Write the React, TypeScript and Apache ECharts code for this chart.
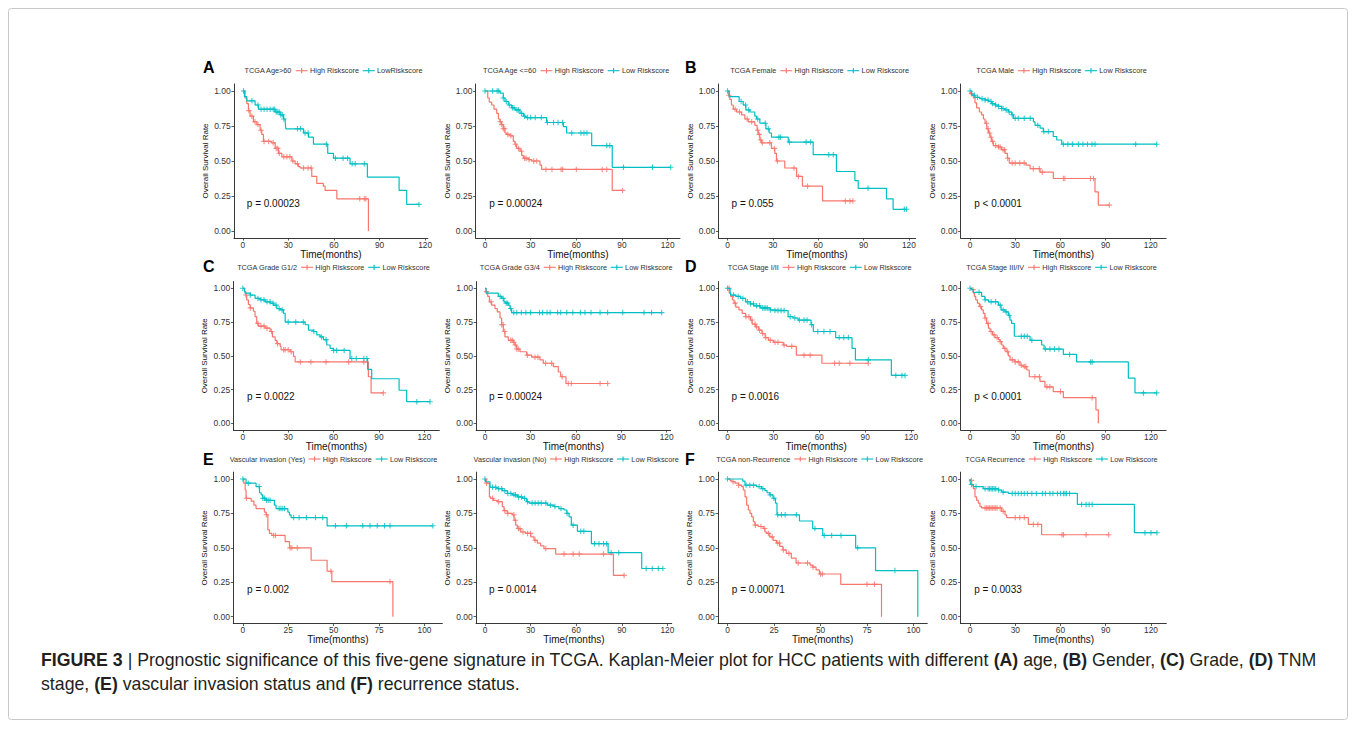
import React, { useEffect, useRef } from "react";
import * as echarts from "echarts";

// ---------------- data ----------------
// each curve: [time, survival after the event]; censor lists: times of "+" marks
const p1High = [[0,1],[1.5,0.95],[2.6,0.91],[3.7,0.86],[4.8,0.82],[7,0.78],[9.2,0.76],[11.4,0.72],[12.5,0.69],[13.6,0.64],[19,0.63],[21.3,0.59],[23.5,0.555],[25.7,0.53],[32.3,0.5],[34.4,0.48],[36.6,0.46],[37.7,0.45],[45.4,0.39],[48.7,0.34],[53,0.32],[54.2,0.29],[61.9,0.23],[82.7,0]];
const p1HighCens = [4,6,8,10,12,14,17,20,22,23,24,27,29,31,33,36,40,43,45,77,80,81];
const p1Low = [[0,1],[1.1,0.96],[2.6,0.93],[8.1,0.9],[10.3,0.87],[21.3,0.85],[24.6,0.83],[26.8,0.8],[27.9,0.78],[28.3,0.73],[40,0.7],[43.2,0.67],[46.5,0.62],[55.9,0.555],[59.7,0.52],[70.6,0.48],[82,0.385],[102.9,0.29],[107.9,0.19]];
const p1LowCens = [0.5,6,10,12,14,16,18,20,21,22,23,24,25,26,27,36,38,41,43,55,61,66,69,72,74,80,116];

const p2High = [[0,1],[1.8,0.95],[2.8,0.92],[4.4,0.9],[5.9,0.87],[7.7,0.84],[8.8,0.8],[9.9,0.78],[10.9,0.76],[12,0.73],[13.1,0.7],[14.2,0.69],[16.4,0.68],[18.6,0.64],[19.7,0.62],[20.8,0.59],[23,0.57],[24.1,0.54],[25.2,0.52],[28.5,0.51],[30.7,0.5],[36.1,0.47],[37.2,0.44],[83.6,0.29]];
const p2HighCens = [10,11,12,13,15,17,20,22,24,26,27,29,32,34,40,44,50,51,60,77,80,90.4];
const p2Low = [[0,1],[9.9,0.985],[12,0.95],[13.1,0.925],[15.3,0.9],[17.5,0.88],[19.7,0.865],[23,0.84],[25.2,0.82],[26.9,0.81],[40.5,0.775],[51.5,0.745],[53.6,0.7],[70.1,0.61],[83.6,0.455]];
const p2LowCens = [0,5,8,9,12,14,16,18,19,21,22,24,26,28,30,33,37,41,45,48,51,57,63,65,67,80,82,91,110,122];

const p3High = [[0,1],[0.9,0.97],[1.5,0.94],[2.6,0.9],[3.8,0.87],[6,0.85],[9.3,0.83],[11.5,0.8],[13.7,0.78],[18.1,0.755],[19.6,0.72],[20.3,0.69],[21.4,0.65],[22.5,0.63],[29.1,0.59],[31.3,0.555],[32.4,0.5],[37.9,0.45],[45.7,0.39],[49.6,0.32],[62.9,0.215]];
const p3HighCens = [1,5,8,13,16,20,21,22,23,28,31,33,44,47,53,78,81,83];
const p3Low = [[0,1],[1.1,0.96],[7.7,0.925],[10.4,0.9],[12.1,0.865],[14.8,0.85],[18.1,0.82],[19.2,0.8],[21.4,0.77],[25.4,0.73],[27.6,0.7],[29.1,0.67],[40.2,0.635],[56.7,0.545],[72.1,0.425],[84.3,0.36],[86.5,0.305],[105.2,0.23],[109.6,0.155]];
const p3LowCens = [0,9,12,14,20,25,27,34,35,41,52,55,67,70,93,117,118.5];

const p4High = [[0,1],[0.4,0.98],[2.2,0.95],[3.3,0.915],[4.4,0.88],[6.2,0.85],[7.7,0.83],[8.9,0.8],[10,0.77],[11.1,0.73],[12.2,0.7],[13.3,0.67],[14.4,0.64],[15.5,0.61],[18.8,0.6],[21,0.58],[23.2,0.555],[24.8,0.52],[26.1,0.485],[37.2,0.47],[39.9,0.445],[46.5,0.42],[55.3,0.375],[83,0.28],[85.2,0.185]];
const p4HighCens = [1,11,12,13,14,15,17,19,20,22,23,25,28,30,33,36,42,46,48,62,63,80,82,92.5];
const p4Low = [[0,1],[1.1,0.97],[3.3,0.955],[6.6,0.945],[10,0.935],[12.2,0.925],[14.4,0.91],[16.6,0.9],[18.8,0.89],[21,0.875],[23.2,0.865],[25.5,0.85],[27.7,0.83],[28.8,0.805],[42.1,0.78],[43.2,0.755],[46.5,0.735],[48.7,0.71],[55.3,0.675],[57.6,0.65],[60.9,0.62]];
const p4LowCens = [0,3,5,8,10,12,14,15,17,19,21,22,24,26,28,30,32,36,40,45,49,52,62,65,68,72,75,78,81,83,110,124];

const p5High = [[0,1],[1.1,0.975],[2,0.95],[2.6,0.915],[3.7,0.88],[4.8,0.855],[7,0.83],[8.1,0.79],[9.2,0.74],[10.3,0.72],[14.8,0.705],[18.1,0.68],[19.6,0.64],[21.4,0.615],[22.5,0.59],[24.7,0.57],[25.3,0.545],[31.3,0.53],[33.5,0.495],[34.6,0.455],[83,0.345],[84.8,0.225]];
const p5HighCens = [2,5,10,12,14,16,19,23,27,28,30,32,38,45,55,70,80,92.9];
const p5Low = [[0,1],[1.1,0.99],[1.5,0.965],[4.8,0.95],[8.1,0.925],[11.4,0.915],[14.8,0.9],[18.1,0.89],[20.3,0.875],[22.5,0.85],[24.7,0.84],[26.9,0.815],[28,0.75],[41.2,0.73],[43.4,0.69],[46.7,0.68],[48.9,0.655],[51.1,0.64],[53.3,0.62],[55.5,0.58],[57.7,0.555],[59.9,0.54],[70.9,0.48],[82.5,0.4],[85.2,0.33],[103.3,0.245],[108.3,0.16]];
const p5LowCens = [0,5,10,12,14,16,18,20,22,24,26,30,35,40,47,52,55,60,62,67,72,75,80,82,115,123.7];

const p6High = [[0,1],[0.7,0.975],[1.8,0.94],[2.9,0.9],[4.4,0.875],[6.6,0.85],[8.1,0.825],[9.9,0.78],[11,0.73],[12.1,0.68],[13.2,0.64],[15.4,0.615],[18.7,0.6],[19.8,0.58],[20.9,0.55],[23.1,0.53],[27.5,0.505],[30.8,0.49],[36.3,0.47],[38.5,0.445],[45.1,0.42],[48.4,0.38],[50,0.345],[53.5,0.295]];
const p6HighCens = [1,4,11,12,13,17,18,19,20,21,22,28,33,35,40,44,51,55,57,76,81];
const p6Low = [[0,1],[0.7,0.965],[8.8,0.94],[11,0.925],[12.5,0.9],[13.9,0.89],[15.4,0.875],[16.5,0.85],[17.6,0.82]];
const p6LowCens = [10,12,14,15,17,19,21,24,27,30,36,38,41,43,48,50,54,58,63,66,70,76,81,91,105,110,116.7];

const p7High = [[0,1],[1.1,0.965],[2.1,0.94],[3.2,0.915],[4.3,0.89],[5.4,0.86],[7.5,0.84],[9.6,0.815],[11.8,0.79],[15,0.765],[16.1,0.735],[18.2,0.715],[20.4,0.69],[22.5,0.665],[24.6,0.635],[26.8,0.615],[30,0.6],[36.4,0.58],[38.6,0.57],[45,0.505],[61.7,0.445]];
const p7HighCens = [1,5,12,14,16,18,19,21,23,25,28,31,33,37,42,50,54,70,73,80,92];
const p7Low = [[0,1],[1.7,0.975],[2.1,0.95],[5.4,0.94],[8.6,0.925],[11.8,0.9],[15,0.885],[17.1,0.87],[21.4,0.855],[27.9,0.84],[30,0.835],[39.6,0.79],[42.9,0.78],[46.1,0.765],[54.6,0.73],[56.1,0.68],[70.7,0.635],[81.4,0.555],[83.6,0.47],[107.1,0.355]];
const p7LowCens = [0,4,7,10,13,15,17,19,21,23,24,25,26,28,31,33,35,37,41,44,47,50,52,55,59,63,67,73,76,79,92,110,114,116];

const p8High = [[0,1],[1.1,0.99],[2.2,0.965],[2.9,0.94],[3.8,0.915],[4.9,0.89],[6.2,0.865],[7.7,0.84],[8.8,0.815],[9.9,0.78],[11,0.74],[12.2,0.705],[13.3,0.68],[15,0.655],[16.6,0.635],[18.8,0.62],[19.9,0.605],[21,0.58],[22.1,0.555],[23.9,0.53],[25.4,0.5],[26.5,0.47],[29.8,0.455],[33.1,0.43],[35.4,0.42],[37.6,0.395],[39.3,0.345],[46.4,0.31],[49.7,0.27],[55.2,0.235],[61.9,0.19],[83.5,0.1],[85.1,0]];
const p8HighCens = [2,7,10,12,14,16,18,20,23,25,28,30,32,34,36,37,43,46,51,53,60,81];
const p8Low = [[0,1],[1.1,0.99],[2.2,0.97],[7.7,0.94],[9.9,0.915],[12.2,0.9],[18.8,0.875],[20.6,0.84],[23.2,0.825],[25.4,0.8],[26.5,0.765],[27.6,0.74],[29.4,0.645],[39.8,0.615],[47.5,0.58],[49.1,0.55],[61.9,0.51],[70.7,0.455],[105,0.335],[109.4,0.225]];
const p8LowCens = [0,6,10,14,17,20,22,24,26,34,36,38,41,50,53,56,59,66,80,81,115,123.8];

const p9High = [[0,1],[0.5,0.97],[1.3,0.92],[1.8,0.86],[4.6,0.84],[6.1,0.81],[7.3,0.785],[11.9,0.76],[12.8,0.74],[13.8,0.63],[14.7,0.605],[16,0.59],[23.3,0.545],[25.7,0.5],[37.6,0.41],[46.4,0.33],[49,0.255],[82.6,0]];
const p9HighCens = [2,13,17,18,26,27,30,48.5,81];
const p9Low = [[0,1],[1.8,0.97],[7.3,0.945],[9.2,0.9],[10.1,0.885],[11,0.86],[12.8,0.845],[17.4,0.81],[18.3,0.785],[24.8,0.76],[25.7,0.74],[26.6,0.72],[46.4,0.66]];
const p9LowCens = [0,3,9,11,12,13,14,15,20,21,22,23,28,31,35,40,44,51,57,66,70,74,78,81,104.6];

const p10High = [[0,1],[0.9,0.97],[2.9,0.87],[3.7,0.86],[5.5,0.845],[8.1,0.835],[11.4,0.8],[12.5,0.77],[14.7,0.75],[18,0.74],[19.1,0.7],[20.2,0.665],[21.3,0.64],[23.5,0.615],[26.8,0.605],[30.1,0.58],[32.3,0.555],[34.4,0.535],[36.6,0.515],[38.8,0.495],[46.5,0.455],[84.5,0.3]];
const p10HighCens = [1,5,9,13,15,19,20,22,23,25,28,30,33,40,52,58,62,78,91.5];
const p10Low = [[0,1],[0.4,0.98],[3.3,0.94],[8.1,0.93],[11.4,0.915],[14.7,0.895],[18,0.885],[21.3,0.87],[24.6,0.86],[27.4,0.835],[29,0.825],[41,0.81],[45.4,0.8],[48.7,0.785],[52,0.775],[53.8,0.75],[55.3,0.725],[56.8,0.665],[60.8,0.62],[70,0.53],[81,0.465],[103.1,0.35]];
const p10LowCens = [0,5,7,9,11,13,15,17,19,20,22,24,26,28,31,33,35,37,40,43,46,50,54,58,63,65,72,75,78,80,83,88,106,110,114,117];

const p11High = [[0,1],[1.4,0.99],[2.3,0.98],[4.1,0.97],[5.9,0.955],[7.6,0.945],[8.5,0.92],[9.4,0.87],[10.3,0.81],[11.2,0.775],[12.1,0.75],[13,0.725],[13.9,0.69],[14.7,0.665],[16.5,0.655],[19.2,0.64],[20.1,0.615],[21,0.605],[22.7,0.58],[24.5,0.555],[26.3,0.535],[28.1,0.51],[29.8,0.485],[31.6,0.46],[34.3,0.425],[36.9,0.39],[44.4,0.375],[45.8,0.36],[47.6,0.34],[49.4,0.31],[60.9,0.235],[82.8,0]];
const p11HighCens = [3,6,15,18,20,22,24,27,28,30,33,38,43,46,50,51,75,79];
const p11Low = [[0,1],[8.2,0.985],[9.4,0.955],[15.6,0.945],[18.3,0.93],[20.1,0.915],[21.3,0.9],[22.7,0.885],[24.5,0.86],[25.8,0.825],[26.6,0.74],[38.7,0.695],[45.8,0.64],[51.2,0.59],[68.9,0.5],[79.6,0.335],[102.3,0]];
const p11LowCens = [0,10,12,14,17,19,23,25,27,29,31,37,47,52,56,61,70,90];

const p12High = [[0,1],[0.4,0.99],[1.1,0.955],[2.2,0.93],[3.3,0.87],[4.4,0.845],[5.5,0.825],[6.6,0.8],[7.7,0.79],[21,0.765],[23.2,0.74],[24.3,0.72],[38.7,0.67],[47.5,0.595]];
const p12HighCens = [1,10,11,12,13,14,15,16,17,18,20,22,30,33,36,42,45,61,62,77,92];
const p12Low = [[0,1],[0.3,0.96],[2.2,0.945],[8.8,0.93],[18.8,0.92],[21,0.905],[25.4,0.895],[71.2,0.815],[109,0.61]];
const p12LowCens = [1,4,10,12,13,14,15,16,17,19,22,28,30,32,34,36,38,41,44,48,50,53,55,58,60,62,63,64,66,74,77,79,81,116,120,124];

const PANEL_TITLES = ["TCGA Age>60","TCGA Age <=60","TCGA Female","TCGA Male","TCGA Grade G1/2","TCGA Grade G3/4","TCGA Stage I/II","TCGA Stage III/IV","Vascular invasion (Yes)","Vascular invasion (No)","TCGA non-Recurrence","TCGA Recurrence"];
const HIGH_LABELS = ["High Riskscore","High Riskscore","High Riskscore","High Riskscore","High Riskscore","High Riskscore","High Riskscore","High Riskscore","High Riskscore","High Riskscore","High Riskscore","High Riskscore"];
const LOW_LABELS = ["LowRiskscore","Low Riskscore","Low Riskscore","Low Riskscore","Low Riskscore","Low Riskscore","Low Riskscore","Low Riskscore","Low Riskscore","Low Riskscore","Low Riskscore","Low Riskscore"];
const P_VALUES = ["p = 0.00023","p = 0.00024","p = 0.055","p < 0.0001","p = 0.0022","p = 0.00024","p = 0.0016","p < 0.0001","p = 0.002","p = 0.0014","p = 0.00071","p = 0.0033"];
const PANEL_LETTERS = ["A","B","C","D","E","F"];
const X_TICKS_30 = [0,30,60,90,120];
const X_TICKS_25 = [0,25,50,75,100];
const Y_TICKS = [0,0.25,0.5,0.75,1];
const X_TITLE = "Time(months)";
const Y_TITLE = "Overall Survival Rate";
const CAPTION_1 = "{b|FIGURE 3} | Prognostic significance of this five-gene signature in TCGA. Kaplan-Meier plot for HCC patients with different {b|(A)} age, {b|(B)} Gender, {b|(C)} Grade, {b|(D)} TNM";
const CAPTION_2 = "stage, {b|(E)} vascular invasion status and {b|(F)} recurrence status.";

const CURVES = [
  [p1High,p1HighCens,p1Low,p1LowCens],[p2High,p2HighCens,p2Low,p2LowCens],[p3High,p3HighCens,p3Low,p3LowCens],[p4High,p4HighCens,p4Low,p4LowCens],
  [p5High,p5HighCens,p5Low,p5LowCens],[p6High,p6HighCens,p6Low,p6LowCens],[p7High,p7HighCens,p7Low,p7LowCens],[p8High,p8HighCens,p8Low,p8LowCens],
  [p9High,p9HighCens,p9Low,p9LowCens],[p10High,p10HighCens,p10Low,p10LowCens],[p11High,p11HighCens,p11Low,p11LowCens],[p12High,p12HighCens,p12Low,p12LowCens],
];
const X_TICK_SETS = [X_TICKS_30,X_TICKS_30,X_TICKS_30,X_TICKS_30,X_TICKS_30,X_TICKS_30,X_TICKS_30,X_TICKS_30,X_TICKS_25,X_TICKS_30,X_TICKS_25,X_TICKS_30];

// ---------------- layout ----------------
const RED = "#F8766D";
const CYAN = "#00BFC4";
const FONT = '"Liberation Sans", Arial, Helvetica, sans-serif';
const COL_X0 = [242.8, 485, 727.5, 970];
const PPM = [
  [1.519, 1.522, 1.511, 1.506],
  [1.513, 1.514, 1.53, 1.508],
  [1.817, 1.52, 1.86, 1.508],
];
const ROW_Y1 = [91, 288.3, 479];
const ROW_Y0 = [231, 423.3, 616.7];
const LEGEND_Y = [70.7, 267.3, 459];
const LEGEND_CX = [333.5, 576.2, 819.6, 1061.5];
const LETTER_X = [203, 685];
const LETTER_Y = [67.5, 266.7, 459];
const CAPTION_X = 41;
const CAPTION_W = 1277;
const PLUS = "path://M4,0H6V4H10V6H6V10H4V6H0V4H4Z";

let measureCtx: CanvasRenderingContext2D | null = null;
function textWidth(t: string, size: number, weight = "normal") {
  if (!measureCtx) measureCtx = document.createElement("canvas").getContext("2d");
  if (!measureCtx) return t.length * size * 0.5;
  measureCtx.font = `${weight} ${size}px ${FONT}`;
  return measureCtx.measureText(t).width;
}
function richWidth(t: string, size: number) {
  let w = 0;
  const re = /\{b\|([^}]*)\}/g;
  let last = 0;
  let m: RegExpExecArray | null;
  while ((m = re.exec(t))) {
    w += textWidth(t.slice(last, m.index), size);
    w += textWidth(m[1], size, "bold");
    last = m.index + m[0].length;
  }
  w += textWidth(t.slice(last), size);
  return w;
}

function survAt(events: number[][], t: number) {
  let s = 1;
  for (const [et, es] of events) {
    if (et <= t) s = es;
    else break;
  }
  return s;
}

function lineData(events: number[][], cens: number[]) {
  const out = events.map((p) => [p[0], p[1]]);
  const last = events[events.length - 1];
  const maxC = Math.max(...cens);
  if (maxC > last[0]) out.push([maxC, last[1]]);
  return out;
}

function buildOption() {
  const grid: any[] = [];
  const xAxis: any[] = [];
  const yAxis: any[] = [];
  const series: any[] = [];
  const graphic: any[] = [];

  // outer frame
  graphic.push({ type: "rect", silent: true, shape: { x: 8.5, y: 8.5, width: 1339, height: 711, r: 3 }, style: { fill: "none", stroke: "#c8c8c8", lineWidth: 1 } });

  for (let i = 0; i < 12; i++) {
    const r = Math.floor(i / 4);
    const c = i % 4;
    const [high, highCens, low, lowCens] = CURVES[i] as [number[][], number[], number[][], number[]];
    const R = Math.max(high[high.length - 1][0], low[low.length - 1][0], ...highCens, ...lowCens);
    const xmin = -0.05 * R;
    const xmax = 1.05 * R;
    const ppm = PPM[r][c];
    const top = ROW_Y1[r] - 0.05 * (ROW_Y0[r] - ROW_Y1[r]);
    const bottom = ROW_Y0[r] + 0.05 * (ROW_Y0[r] - ROW_Y1[r]);
    grid.push({ left: COL_X0[c] + xmin * ppm, top, width: (xmax - xmin) * ppm, height: bottom - top, containLabel: false, outerBoundsMode: "none" });

    xAxis.push({
      type: "value", gridIndex: i, min: xmin, max: xmax,
      splitLine: { show: false },
      axisLine: { show: true, onZero: false, lineStyle: { color: "#222", width: 0.9 } },
      axisTick: { show: true, length: 2.5, customValues: X_TICK_SETS[i], lineStyle: { color: "#333", width: 0.8 } },
      axisLabel: { show: true, customValues: X_TICK_SETS[i], fontSize: 8.3, margin: 2.5, color: "#333", fontFamily: FONT },
      name: X_TITLE, nameLocation: "middle", nameGap: 9.5,
      nameTextStyle: { fontSize: 10, color: "#111", fontFamily: FONT },
    });
    yAxis.push({
      type: "value", gridIndex: i, min: -0.05, max: 1.05,
      splitLine: { show: false },
      axisLine: { show: true, onZero: false, lineStyle: { color: "#222", width: 0.9 } },
      axisTick: { show: true, length: 2.5, customValues: Y_TICKS, lineStyle: { color: "#333", width: 0.8 } },
      axisLabel: { show: true, customValues: Y_TICKS, fontSize: 8.5, margin: 3.3, color: "#333", fontFamily: FONT, formatter: (v: number) => v.toFixed(2) },
      name: Y_TITLE, nameLocation: "middle", nameGap: 24.5,
      nameTextStyle: { fontSize: 8, color: "#111", fontFamily: FONT },
    });

    const common = { xAxisIndex: i, yAxisIndex: i, silent: true };
    series.push({
      ...common, type: "line", step: "end", symbol: "none", data: lineData(high, highCens),
      lineStyle: { color: RED, width: 1.2 }, itemStyle: { color: RED },
      markPoint: {
        silent: true, symbol: "circle", symbolSize: 1, itemStyle: { color: "rgba(0,0,0,0)" },
        data: [{ coord: [R / 50, 0.2], value: P_VALUES[i] }],
        label: { show: true, position: "right", distance: 0, formatter: P_VALUES[i], fontSize: 10, color: "#111", fontFamily: FONT },
      },
    });
    series.push({
      ...common, type: "line", step: "end", symbol: "none", data: lineData(low, lowCens),
      lineStyle: { color: CYAN, width: 1.2 }, itemStyle: { color: CYAN },
    });
    series.push({
      ...common, type: "scatter", symbol: PLUS, symbolSize: 5.5,
      data: highCens.map((t) => [t, survAt(high, t)]), itemStyle: { color: RED },
    });
    series.push({
      ...common, type: "scatter", symbol: PLUS, symbolSize: 5.5,
      data: lowCens.map((t) => [t, survAt(low, t)]), itemStyle: { color: CYAN },
    });

    // legend row above the panel
    const fs = 7.3;
    const symW = 12;
    const wT = textWidth(PANEL_TITLES[i], fs);
    const wH = textWidth(HIGH_LABELS[i], fs);
    const wL = textWidth(LOW_LABELS[i], fs);
    const total = wT + 3.5 + symW + 2.3 + wH + 3.7 + symW + 2.3 + wL;
    let x = LEGEND_CX[c] - total / 2;
    const y = LEGEND_Y[r];
    const txt = (t: string, xx: number) => ({ type: "text", silent: true, x: xx, y, style: { text: t, fontSize: fs, fontFamily: FONT, fill: "#333", align: "left", verticalAlign: "middle" } });
    const key = (xx: number, col: string) => [
      { type: "line", silent: true, shape: { x1: xx, y1: y, x2: xx + symW, y2: y }, style: { stroke: col, lineWidth: 1.1 } },
      { type: "line", silent: true, shape: { x1: xx + symW / 2, y1: y - 2.6, x2: xx + symW / 2, y2: y + 2.6 }, style: { stroke: col, lineWidth: 1.1 } },
    ];
    graphic.push(txt(PANEL_TITLES[i], x));
    x += wT + 3.5;
    graphic.push(...key(x, RED));
    x += symW + 2.3;
    graphic.push(txt(HIGH_LABELS[i], x));
    x += wH + 3.7;
    graphic.push(...key(x, CYAN));
    x += symW + 2.3;
    graphic.push(txt(LOW_LABELS[i], x));
  }

  // panel letters
  for (let k = 0; k < 6; k++) {
    const r = Math.floor(k / 2);
    const c = k % 2;
    graphic.push({ type: "text", silent: true, x: LETTER_X[c], y: LETTER_Y[r], style: { text: PANEL_LETTERS[k], fontSize: 16, fontWeight: "bold", fontFamily: FONT, fill: "#000", align: "left", verticalAlign: "middle" } });
  }

  // caption: font size fitted so the first line spans the reference width
  const capFs = Math.min(19, Math.max(13, 14 * CAPTION_W / richWidth(CAPTION_1, 14)));
  const rich = { b: { fontWeight: "bold", fontSize: capFs, fontFamily: FONT, fill: "#231f20" } };
  graphic.push({ type: "text", silent: true, x: CAPTION_X, y: 660, style: { text: CAPTION_1, rich, fontSize: capFs, fontFamily: FONT, fill: "#231f20", align: "left", verticalAlign: "middle" } });
  graphic.push({ type: "text", silent: true, x: CAPTION_X, y: 684, style: { text: CAPTION_2, rich, fontSize: capFs, fontFamily: FONT, fill: "#231f20", align: "left", verticalAlign: "middle" } });

  return { animation: false, backgroundColor: "#ffffff", grid, xAxis, yAxis, series, graphic };
}

export default function App() {
  const ref = useRef<HTMLDivElement>(null);
  useEffect(() => {
    const el = ref.current;
    if (!el) return;
    const chart = echarts.init(el, null, { renderer: "svg", width: 1356, height: 729 });
    chart.setOption(buildOption() as any);
    return () => chart.dispose();
  }, []);
  return <div ref={ref} style={{ position: "absolute", left: 0, top: 0, width: 1356, height: 729, background: "#fff" }} />;
}
